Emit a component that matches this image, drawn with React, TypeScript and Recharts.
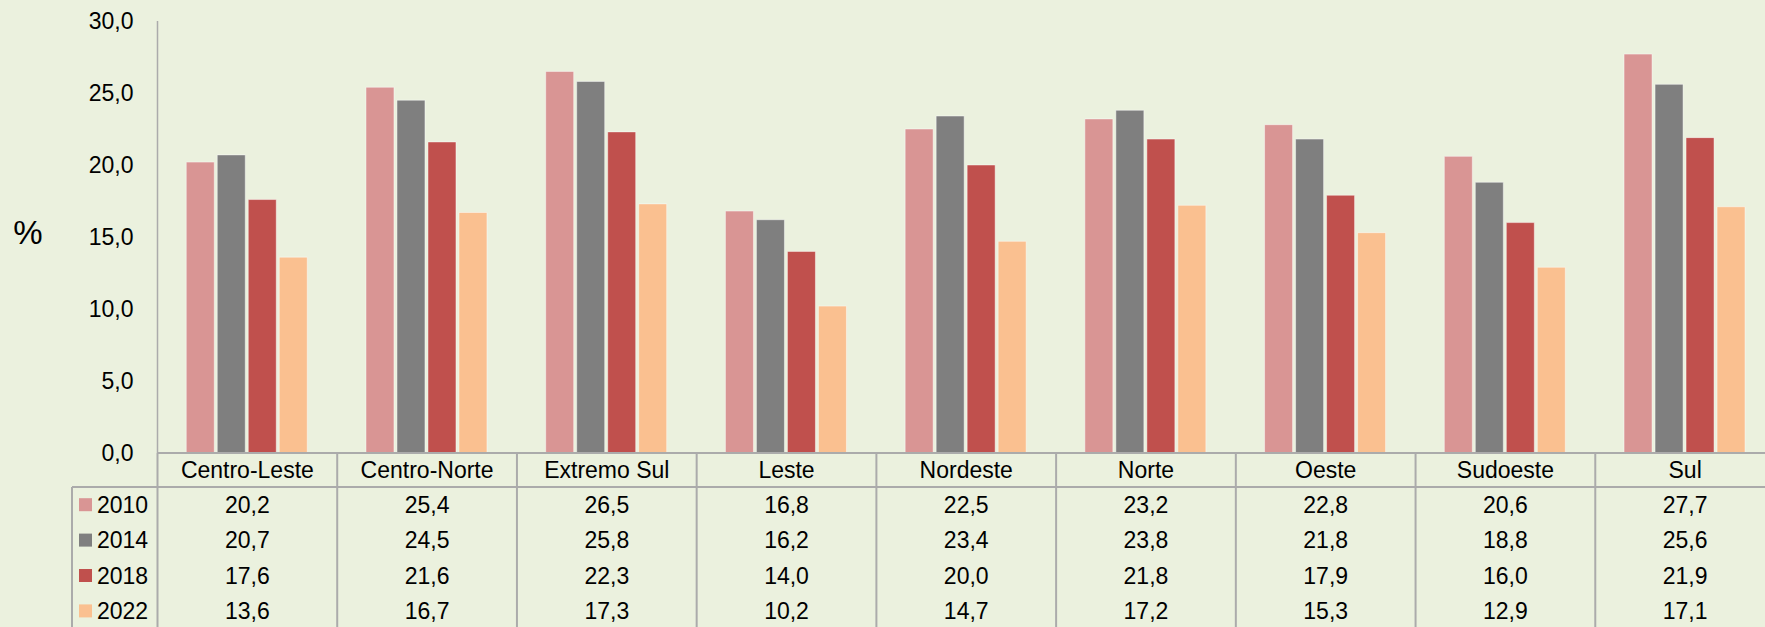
import React from 'react';
import { BarChart, Bar, XAxis, YAxis } from 'recharts';

const regions = ['Centro-Leste', 'Centro-Norte', 'Extremo Sul', 'Leste', 'Nordeste', 'Norte', 'Oeste', 'Sudoeste', 'Sul'];
const years = ['2010', '2014', '2018', '2022'];
const v2010 = [20.2, 25.4, 26.5, 16.8, 22.5, 23.2, 22.8, 20.6, 27.7];
const v2014 = [20.7, 24.5, 25.8, 16.2, 23.4, 23.8, 21.8, 18.8, 25.6];
const v2018 = [17.6, 21.6, 22.3, 14.0, 20.0, 21.8, 17.9, 16.0, 21.9];
const v2022 = [13.6, 16.7, 17.3, 10.2, 14.7, 17.2, 15.3, 12.9, 17.1];
const yTicks = [0, 5, 10, 15, 20, 25, 30];

const COLORS = ['#D99594', '#7F7F7F', '#C0504D', '#FAC090'];
const series = [v2010, v2014, v2018, v2022];

const data = regions.map((name, i) => ({
  name,
  y2010: v2010[i],
  y2014: v2014[i],
  y2018: v2018[i],
  y2022: v2022[i],
}));

const W = 1775;
const H = 627;
const LEFT = 157.5;
const TOP = 21;
const BOTTOM = 453;
const BAND = (W - LEFT) / regions.length;
const HEADER_H = 34;
const ROW_H = 35.4;
const LINE = '#ABABAB';
const FONT = '"Liberation Sans", Arial, sans-serif';

const fmt = (v: number) => v.toFixed(1).replace('.', ',');

const TableTick = (props: any) => {
  const { x, payload } = props;
  const idx = payload.index;
  const rowTop = BOTTOM + HEADER_H;
  return (
    <g fontFamily={FONT} fontSize={23} fill="#000">
      <text x={x} y={BOTTOM + HEADER_H / 2} textAnchor="middle" dominantBaseline="central">
        {payload.value}
      </text>
      {series.map((s, r) => (
        <text
          key={r}
          x={x}
          y={rowTop + ROW_H * r + ROW_H / 2}
          textAnchor="middle"
          dominantBaseline="central"
        >
          {fmt(s[idx])}
        </text>
      ))}
      <line x1={x + BAND / 2} y1={BOTTOM} x2={x + BAND / 2} y2={H} stroke={LINE} strokeWidth={2} />
      {idx === 0 && (
        <g>
          <line x1={72} y1={rowTop} x2={W} y2={rowTop} stroke={LINE} strokeWidth={2} />
          <line x1={72} y1={rowTop} x2={72} y2={H} stroke={LINE} strokeWidth={2} />
          <line x1={LEFT} y1={BOTTOM} x2={LEFT} y2={H} stroke={LINE} strokeWidth={2} />
          {years.map((yr, r) => {
            const cy = rowTop + ROW_H * r + ROW_H / 2;
            return (
              <g key={yr}>
                <rect x={79} y={cy - 6.5} width={13} height={13} fill={COLORS[r]} />
                <text x={97} y={cy} dominantBaseline="central">
                  {yr}
                </text>
              </g>
            );
          })}
        </g>
      )}
    </g>
  );
};

const App = () => {
  return (
    <div
      style={{
        position: 'fixed',
        left: 0,
        top: 0,
        width: 1765,
        height: H,
        overflow: 'hidden',
        background: '#EBF1DE',
      }}
    >
      <div style={{ position: 'absolute', left: 28, top: 233, transform: 'translate(-50%, -50%)', fontFamily: FONT, fontSize: 33 }}>
        %
      </div>
      <BarChart
        width={W}
        height={H}
        data={data}
        margin={{ top: TOP, right: 0, left: 0, bottom: 0 }}
        barCategoryGap="16%"
        barGap={3}
      >
        <XAxis
          dataKey="name"
          height={H - BOTTOM}
          axisLine={{ stroke: LINE, strokeWidth: 2 }}
          tickLine={false}
          interval={0}
          tick={<TableTick />}
        />
        <YAxis
          width={LEFT}
          domain={[0, 30]}
          ticks={yTicks}
          tickFormatter={fmt}
          axisLine={{ stroke: LINE, strokeWidth: 1.5 }}
          tickLine={false}
          tickMargin={18}
          tick={{ fill: '#000', fontSize: 23, fontFamily: FONT }}
        />
        <Bar dataKey="y2010" fill={COLORS[0]} stroke="rgba(255,255,255,0.45)" isAnimationActive={false} />
        <Bar dataKey="y2014" fill={COLORS[1]} stroke="rgba(255,255,255,0.45)" isAnimationActive={false} />
        <Bar dataKey="y2018" fill={COLORS[2]} stroke="rgba(255,255,255,0.45)" isAnimationActive={false} />
        <Bar dataKey="y2022" fill={COLORS[3]} stroke="rgba(255,255,255,0.45)" isAnimationActive={false} />
      </BarChart>
    </div>
  );
};

export default App;
